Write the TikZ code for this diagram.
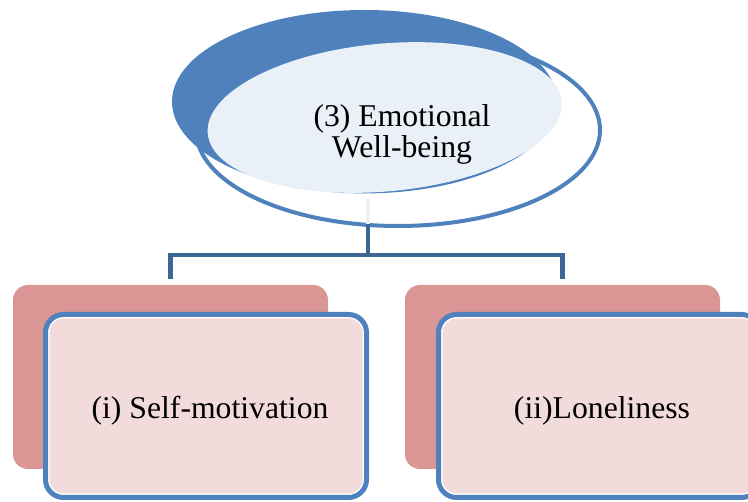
\documentclass[tikz,border=0pt]{standalone}
\usepackage{fontspec}
\setmainfont{Liberation Serif}
\usetikzlibrary{shapes.geometric,calc}
\definecolor{shadowblue}{HTML}{4F81BD}
\definecolor{rimblue}{HTML}{4F81BD}
\definecolor{paleblue}{HTML}{EAF0F8}
\definecolor{connblue}{HTML}{3C6696}
\definecolor{backpink}{HTML}{D99694}
\definecolor{frontpink}{HTML}{F2DCDB}
\tikzset{
  backbox/.style={rectangle, rounded corners=15pt, fill=backpink, minimum width=315pt, minimum height=184pt, inner sep=0pt},
  frontrim/.style={rectangle, rounded corners=18pt, draw=rimblue, line width=5pt, fill=white, minimum width=321pt, minimum height=183pt, inner sep=0pt},
  frontfill/.style={rectangle, rounded corners=14pt, fill=frontpink, minimum width=313pt, minimum height=175pt, inner sep=0pt},
  lbl/.style={font=\fontsize{31.7}{31.7}\selectfont, text=black, inner sep=0pt, align=center},
  conn/.style={draw=connblue, line width=4.6pt},
  oval/.style={ellipse, inner sep=0pt, outer sep=0pt},
}
\begin{document}
\begin{tikzpicture}[x=1pt,y=-1pt]
\useasboundingbox (0,0) rectangle (748,502);
\clip (0,0) rectangle (748,502);
% top ellipse group
\node[oval, fill=shadowblue, minimum width=385pt, minimum height=183.4pt] (shadow) at (364.5,101.7) {};
\coordinate (hub) at (368,255);
\node[oval, draw=rimblue, line width=4pt, minimum width=404pt, minimum height=192pt] (top) at (398,130) {};
\node[oval, fill=paleblue, minimum width=355.4pt, minimum height=147.8pt, rotate=5.2] (topfill) at (384.7,117.5) {};
\node[lbl] (toptext) at (402,134.3) {(3) Emotional\\Well-being};
% bottom boxes
\node[backbox] (lback) at (170.5,377) {};
\node[backbox] (rback) at (562.5,377) {};
\node[frontrim] (lfront) at (206,406) {};
\node[frontfill] (lfill) at (lfront.center) {};
\node[frontrim] (rfront) at (599,406) {};
\node[frontfill] (rfill) at (rfront.center) {};
\node[lbl, anchor=base] (ltext) at (210,419) {(i) Self-motivation};
\node[lbl, anchor=base] (rtext) at (602,419) {(ii)Loneliness};
% connectors
\draw[draw=paleblue, line width=4.6pt] (368,199) -- ([yshift=2pt]hub |- top.south);
\draw[conn] ([yshift=2pt]hub |- top.south) -- (hub) -| ([yshift=6pt]lback.north);
\draw[conn] (hub) -| ([yshift=6pt]rback.north);
\end{tikzpicture}
\end{document}
